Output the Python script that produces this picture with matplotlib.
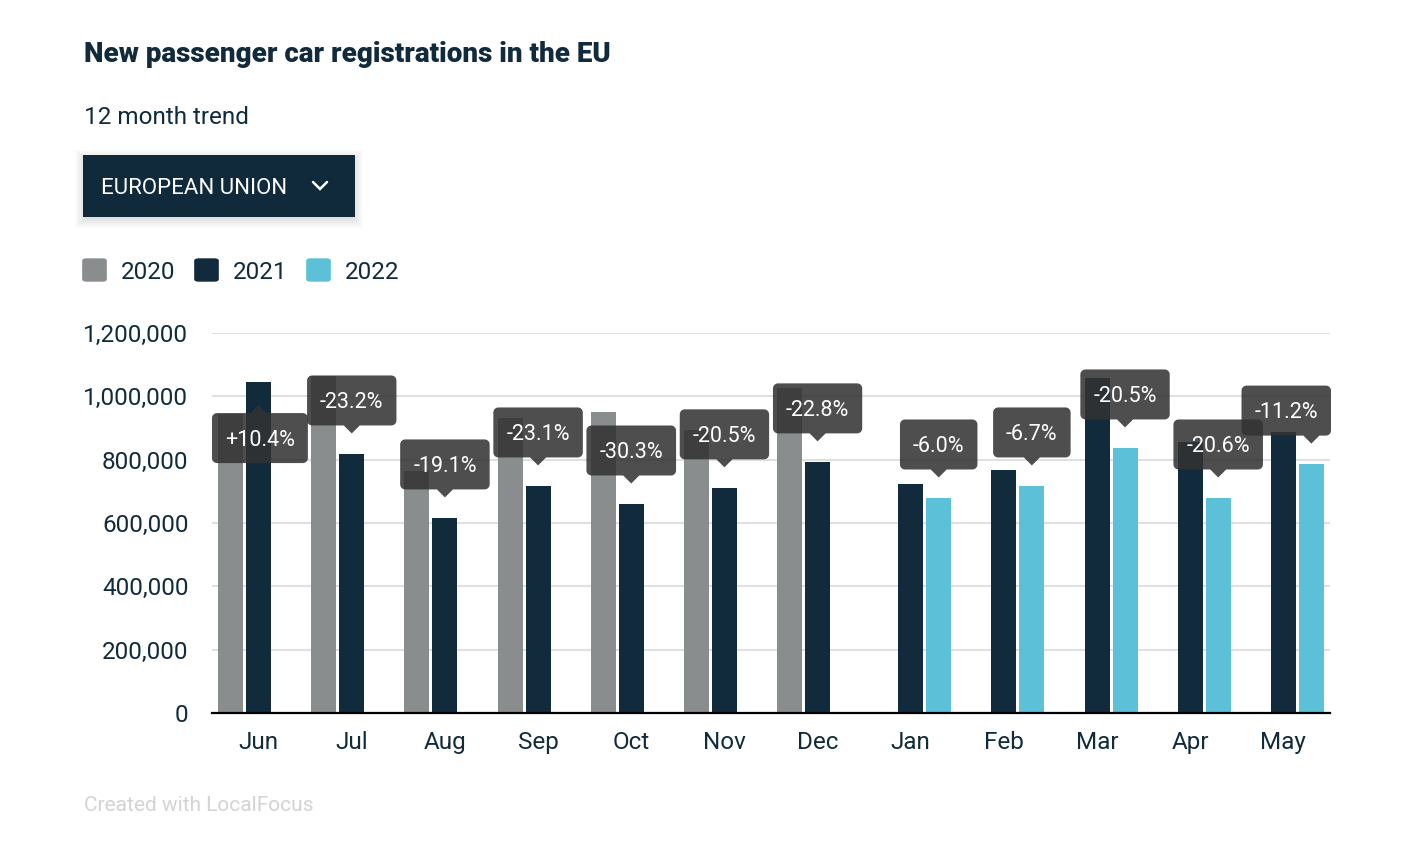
import numpy as np
import matplotlib
matplotlib.use("Agg")
import matplotlib.pyplot as plt
from matplotlib.patches import Rectangle, FancyBboxPatch, Polygon
from matplotlib.transforms import Affine2D, ScaledTranslation

plt.rcParams['font.family'] = ['Roboto', 'DejaVu Sans']

# %% Data

months = ["Jun", "Jul", "Aug", "Sep", "Oct", "Nov", "Dec", "Jan", "Feb", "Mar", "Apr", "May"]
years = ["2020", "2021", "2022"]
reg_2020 = [945000, 1065000, 765000, 932000, 951000, 894000, 1027000, None, None, None, None, None]
reg_2021 = [1045000, 818000, 616000, 717000, 660000, 711000, 793000, 723000, 767000, 1058000, 856000, 887000]
reg_2022 = [None, None, None, None, None, None, None, 679000, 717000, 837000, 679000, 786000]
changes = ["+10.4%", "-23.2%", "-19.1%", "-23.1%", "-30.3%", "-20.5%", "-22.8%",
           "-6.0%", "-6.7%", "-20.5%", "-20.6%", "-11.2%"]
yticks = [0, 200000, 400000, 600000, 800000, 1000000, 1200000]

# %% Style

W, H = 1412, 848
navy = "#112b3c"
colors = ["#8a8d8e", "#112b3c", "#5bc0d8"]
tip_color = "#333333"
grid_color = "#e0e0e0"


def fx(px):
    return px / W


def fy(py):
    return 1 - py / H


fig = plt.figure(figsize=(W / 100, H / 100), dpi=100)
ax = fig.add_axes([fx(212), fy(713), (1330 - 212) / W, (713 - 333) / H])

x = np.arange(len(months))
bar_w = 0.268
offsets = [-0.30, 0.0, 0.30]

for series, off, c in zip([reg_2020, reg_2021, reg_2022], offsets, colors):
    idx = [i for i, v in enumerate(series) if v is not None]
    ax.bar(x[idx] + off, [series[i] for i in idx], width=bar_w, color=c, zorder=2)

ax.set_xlim(-0.5, len(months) - 0.5)
ax.set_ylim(0, 1200000)
ax.set_yticks(yticks)
ax.set_yticklabels([f"{v:,}" for v in yticks])
ax.set_xticks(x)
ax.set_xticklabels(months)
ax.tick_params(axis="both", length=0, labelsize=17.5, labelcolor=navy)
ax.tick_params(axis="y", pad=17)
ax.tick_params(axis="x", pad=13)
ax.yaxis.grid(True, color=grid_color, linewidth=1.5, zorder=0)
ax.set_axisbelow(True)
for s in ["top", "right", "left"]:
    ax.spines[s].set_visible(False)
ax.spines["bottom"].set_linewidth(1.6)
ax.spines["bottom"].set_color("black")
ax.spines["bottom"].set_zorder(3)


# %% Tooltips with % change

def bubble(w, h, r, tw, th, cx, cy):
    # rounded box centred at (cx, cy), pointer at x=0 on its bottom edge (pixels)
    pts = []
    corners = [(w / 2 - r, h / 2 - r, 0, 90), (-w / 2 + r, h / 2 - r, 90, 180),
               (-w / 2 + r, -h / 2 + r, 180, 270), (w / 2 - r, -h / 2 + r, 270, 360)]
    for ccx, ccy, a0, a1 in corners:
        for a in np.radians(np.linspace(a0, a1, 7)):
            pts.append((cx + ccx + r * np.cos(a), cy + ccy + r * np.sin(a)))
        if a0 == 180:
            pts += [(-tw / 2, cy - h / 2), (0, cy - h / 2 - th), (tw / 2, cy - h / 2)]
    return np.array(pts)


renderer = fig.canvas.get_renderer()
ax_left, ax_right = 212, 1331
for i, lab in enumerate(changes):
    if reg_2022[i] is not None:
        xpos, top = x[i] + offsets[2], reg_2022[i]
    else:
        xpos, top = x[i] + offsets[1], reg_2021[i]
    up = lab.startswith("+")
    sign = -1 if up else 1
    centre = 53.5 if not up else 56.0
    t = ax.annotate(lab, xy=(xpos, top), xytext=(0, 0),
                    textcoords="offset points", ha="center", va="baseline",
                    color="white", fontsize=15.5, zorder=6, annotation_clip=False)
    tw_px = t.get_window_extent(renderer).width
    bw = tw_px + 26
    px = ax.transData.transform((xpos, top))[0]
    dx = 0.0
    if px + bw / 2 > ax_right:
        dx = ax_right - (px + bw / 2)
    if px - bw / 2 < ax_left:
        dx = ax_left - (px - bw / 2)
    t.xyann = (dx * 0.72, (sign * centre - 7.6) * 0.72)
    pts = bubble(bw, 50, 5, 16, 8, dx, centre)
    pts[:, 1] *= sign
    trans = Affine2D() + ScaledTranslation(xpos, top, ax.transData)
    ax.add_patch(Polygon(pts, closed=True, facecolor=tip_color, edgecolor="none",
                         alpha=0.87, transform=trans, zorder=5, clip_on=False))

# %% Header, dropdown, legend, footer

fig.text(fx(84), fy(62), "New passenger car registrations in the EU", fontsize=20,
         fontweight="heavy", color=navy, va="baseline")
fig.text(fx(84), fy(124), "12 month trend", fontsize=17.5, color=navy, va="baseline")

# soft drop shadow under the dropdown
for k in range(10):
    g = 1 + k * 1.0
    fig.add_artist(Rectangle((fx(83 - g + 2), fy(217 + g + 1)), (272 + 2 * g - 4) / W, (62 + 2 * g - 4) / H,
                             transform=fig.transFigure, facecolor="black", alpha=0.012,
                             edgecolor="none"))
fig.add_artist(Rectangle((fx(83), fy(217)), 272 / W, 62 / H, transform=fig.transFigure,
                         facecolor="#102a3c", edgecolor="none"))
fig.text(fx(101), fy(194), "EUROPEAN UNION", fontsize=16, color="white", va="baseline")
fig.add_artist(plt.Line2D([fx(313), fx(320), fx(327)], [fy(182), fy(189), fy(182)],
                          transform=fig.transFigure, color="white", linewidth=1.8,
                          solid_capstyle="round", solid_joinstyle="miter"))

leg_x = [83, 195, 307]
for yr, c, lx in zip(years, colors, leg_x):
    fig.add_artist(FancyBboxPatch((fx(lx + 2), fy(280)), 19 / W, 20 / H,
                                  boxstyle="round,pad=0.002,rounding_size=0.003",
                                  transform=fig.transFigure, facecolor=c, edgecolor="none"))
    fig.text(fx(lx + 38), fy(279), yr, fontsize=17.5, color=navy, va="baseline")

fig.text(fx(84), fy(811), "Created with LocalFocus", fontsize=15, color="#d3d3d3", va="baseline")

fig.savefig("out.png", dpi=100, facecolor="white")
